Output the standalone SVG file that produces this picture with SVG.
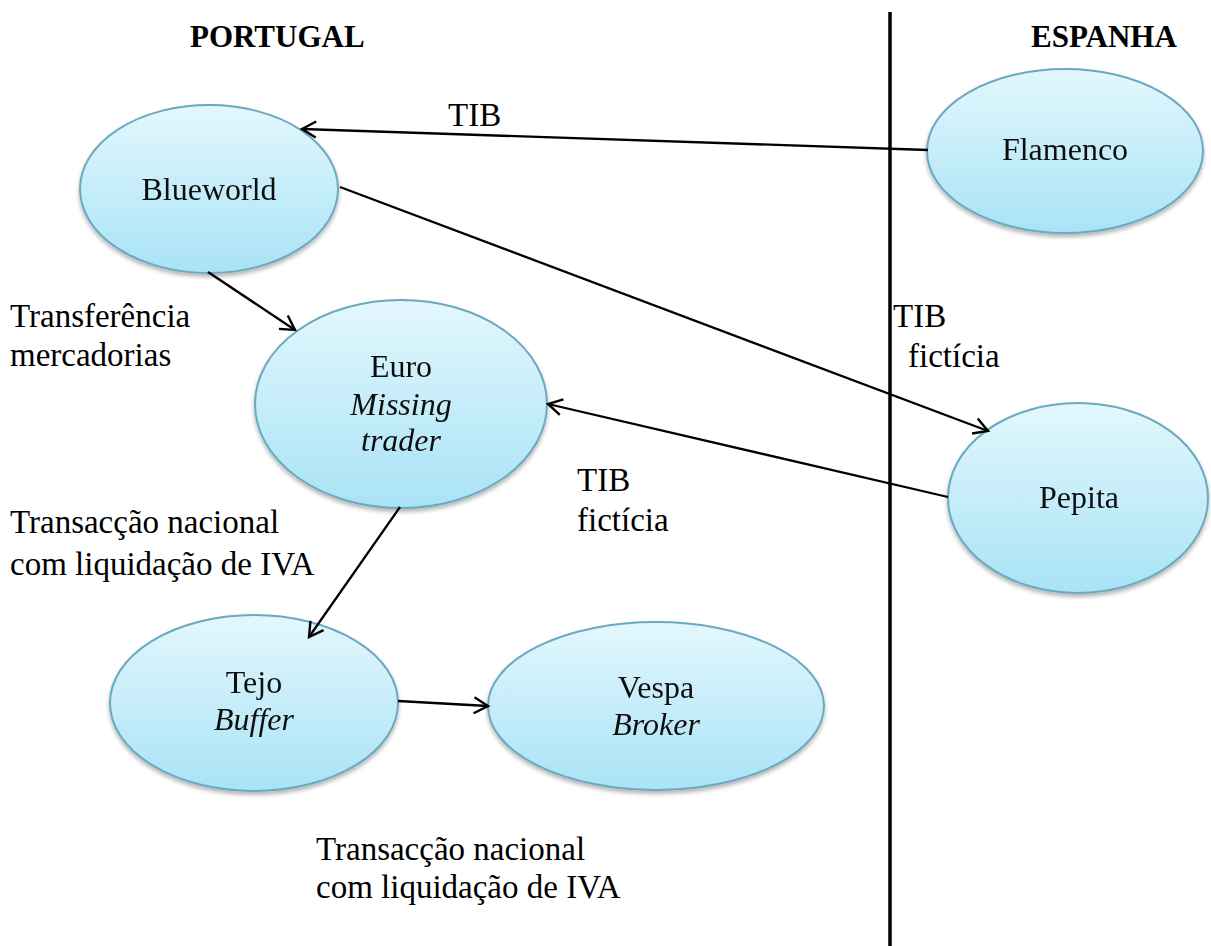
<svg xmlns="http://www.w3.org/2000/svg" width="1211" height="946" viewBox="0 0 1211 946">
<style>
.node{fill:url(#g);stroke:#6aa9bf;stroke-width:2}
.nt{font-family:"Liberation Serif","Times New Roman",serif;font-size:32px;fill:#111;text-anchor:middle}
.it{font-style:italic}
.lb{font-family:"Liberation Serif","Times New Roman",serif;font-size:33px;fill:#000}
.hd{font-family:"Liberation Serif","Times New Roman",serif;font-size:31px;font-weight:bold;fill:#000}
.cn{stroke:#000;stroke-width:2.3;fill:none;marker-end:url(#a)}
</style>
<defs>
<linearGradient id="g" x1="0" y1="0" x2="0" y2="1">
<stop offset="0" stop-color="#e3f7fd"/>
<stop offset="1" stop-color="#a9e3f6"/>
</linearGradient>
<filter id="sh" x="-10%" y="-10%" width="120%" height="130%">
<feGaussianBlur in="SourceAlpha" stdDeviation="2"/>
<feOffset dx="0" dy="3"/>
<feComponentTransfer><feFuncA type="linear" slope="0.3"/></feComponentTransfer>
<feMerge><feMergeNode/><feMergeNode in="SourceGraphic"/></feMerge>
</filter>
<marker id="a" markerUnits="userSpaceOnUse" markerWidth="20" markerHeight="20" refX="15" refY="10" orient="auto">
<path d="M1,2 L15,10 L1,18" fill="none" stroke="#000" stroke-width="2.4"/>
</marker>
</defs>
<rect width="1211" height="946" fill="#fff"/>
<line x1="890" y1="12" x2="890" y2="946" stroke="#000" stroke-width="3.5"/>
<text class="hd" x="190" y="47">PORTUGAL</text>
<text class="hd" x="1031" y="47">ESPANHA</text>

<g id="blueworld" filter="url(#sh)">
<ellipse class="node" cx="209" cy="189" rx="129" ry="84"/>
<text class="nt" x="209" y="200">Blueworld</text>
</g>
<g id="flamenco" filter="url(#sh)">
<ellipse class="node" cx="1065" cy="151" rx="138" ry="82"/>
<text class="nt" x="1065" y="160">Flamenco</text>
</g>
<g id="euro" filter="url(#sh)">
<ellipse class="node" cx="401" cy="404" rx="146" ry="104"/>
<text class="nt" x="401" y="377">Euro</text>
<text class="nt it" x="401" y="415">Missing</text>
<text class="nt it" x="401" y="451">trader</text>
</g>
<g id="pepita" filter="url(#sh)">
<ellipse class="node" cx="1078" cy="498" rx="130" ry="95"/>
<text class="nt" x="1079" y="508">Pepita</text>
</g>
<g id="tejo" filter="url(#sh)">
<ellipse class="node" cx="254" cy="703" rx="144" ry="88"/>
<text class="nt" x="254" y="693">Tejo</text>
<text class="nt it" x="254" y="730">Buffer</text>
</g>
<g id="vespa" filter="url(#sh)">
<ellipse class="node" cx="656" cy="706" rx="168" ry="84"/>
<text class="nt" x="656" y="698">Vespa</text>
<text class="nt it" x="656" y="735">Broker</text>
</g>

<g id="connectors">
<line class="cn" x1="928" y1="150" x2="302" y2="129"/>
<line class="cn" x1="340" y1="187" x2="988" y2="431"/>
<line class="cn" x1="948" y1="497" x2="548" y2="404"/>
<line class="cn" x1="208" y1="272" x2="295" y2="330"/>
<line class="cn" x1="400" y1="507" x2="309" y2="637"/>
<line class="cn" x1="398" y1="701" x2="488" y2="706"/>
</g>

<g id="labels">
<text class="lb" x="448" y="126">TIB</text>
<text class="lb" x="10" y="327">Transferência</text>
<text class="lb" x="10" y="366">mercadorias</text>
<text class="lb" x="893" y="327">TIB</text>
<text class="lb" x="908" y="367">fictícia</text>
<text class="lb" x="577" y="491">TIB</text>
<text class="lb" x="577" y="531">fictícia</text>
<text class="lb" x="10" y="533">Transacção nacional</text>
<text class="lb" x="10" y="575">com liquidação de IVA</text>
<text class="lb" x="316" y="860">Transacção nacional</text>
<text class="lb" x="316" y="898">com liquidação de IVA</text>
</g>
</svg>
